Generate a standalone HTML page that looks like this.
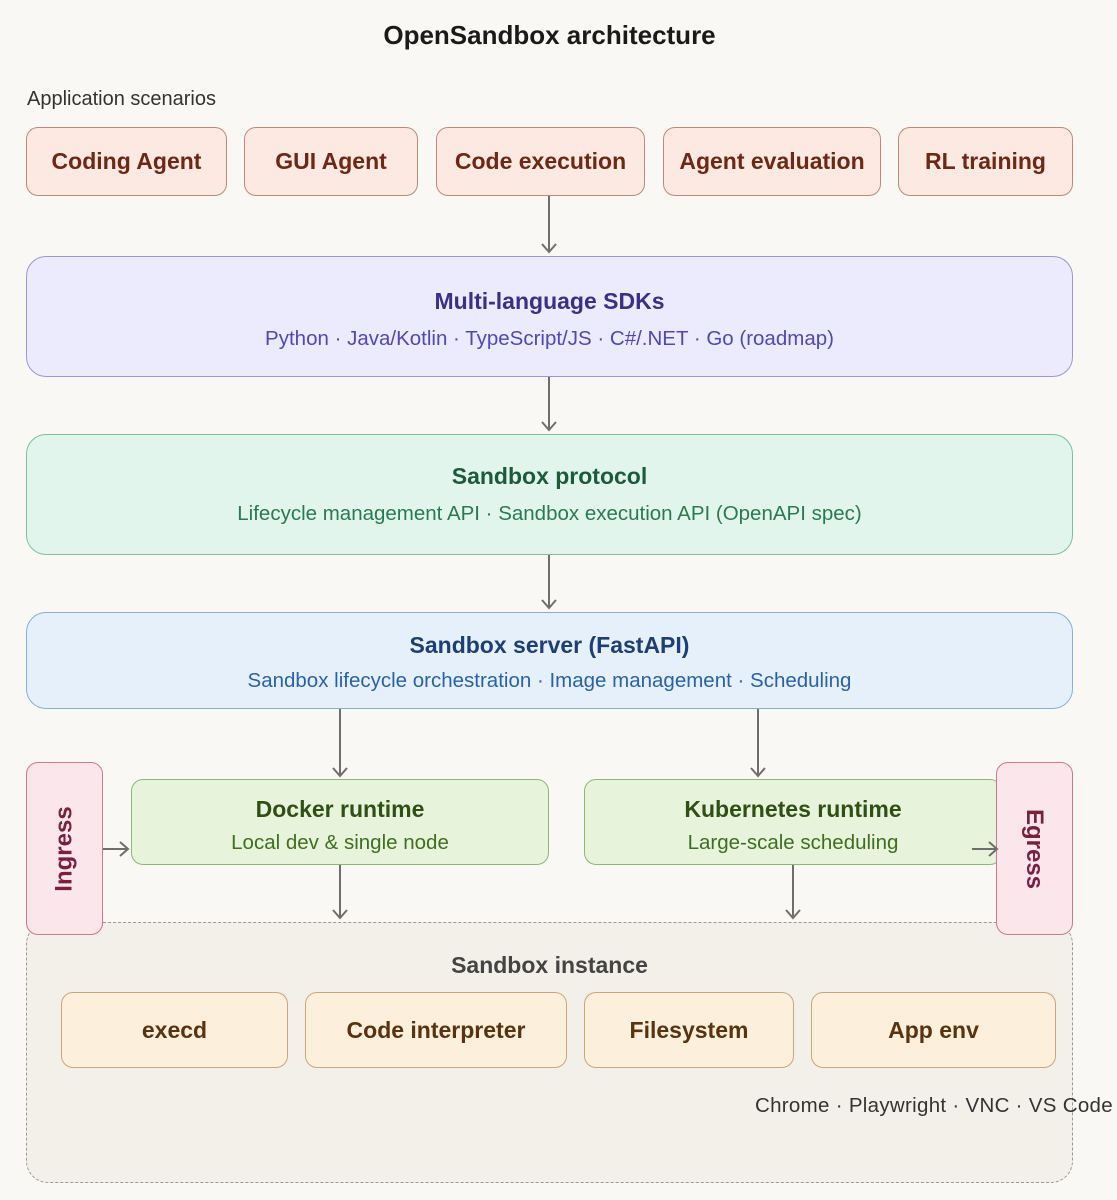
<!DOCTYPE html>
<html><head><meta charset="utf-8"><style>
*{margin:0;padding:0;box-sizing:border-box}
body{width:1117px;height:1200px;background:#faf8f4;font-family:"Liberation Sans",sans-serif;position:relative;overflow:hidden}
.a{position:absolute}
.b{position:absolute;border:1.5px solid;border-radius:12px;display:flex;align-items:center;justify-content:center;text-align:center;white-space:nowrap}
.t{position:absolute;text-align:center;white-space:nowrap}
.h{font-weight:bold;font-size:23px}
.s{font-size:20.5px}
.sc{top:127px;height:69px;background:#fbe9e2;border-color:#c08878;color:#6e2814;font-size:23px;font-weight:bold}
.in{top:992px;height:76px;background:#fcefdc;border-color:#c9a679;color:#5a3310;font-size:23px;font-weight:bold}
</style></head><body>
<div class="a" style="left:0;width:1099px;top:20px;text-align:center;font-size:26px;font-weight:bold;color:#1a1a1a">OpenSandbox architecture</div>
<div class="a" style="left:27px;top:88px;font-size:20px;color:#333">Application scenarios</div>

<div class="b sc" style="left:26px;width:201px">Coding Agent</div>
<div class="b sc" style="left:244px;width:174px">GUI Agent</div>
<div class="b sc" style="left:436px;width:209px">Code execution</div>
<div class="b sc" style="left:663px;width:218px">Agent evaluation</div>
<div class="b sc" style="left:898px;width:175px">RL training</div>

<div class="b" style="left:26px;top:256px;width:1047px;height:121px;background:#ecebfd;border-color:#9a95dc;border-radius:20px"></div>
<div class="t h" style="top:288px;color:#3b2f8a;left:26px;width:1047px">Multi-language SDKs</div>
<div class="t s" style="top:327px;color:#5246b8;left:26px;width:1047px">Python · Java/Kotlin · TypeScript/JS · C#/.NET · Go (roadmap)</div>

<div class="b" style="left:26px;top:434px;width:1047px;height:121px;background:#e2f5ec;border-color:#7dbf9c;border-radius:20px"></div>
<div class="t h" style="top:463px;color:#1d5a3c;left:26px;width:1047px">Sandbox protocol</div>
<div class="t s" style="top:502px;color:#2a7a50;left:26px;width:1047px">Lifecycle management API · Sandbox execution API (OpenAPI spec)</div>

<div class="b" style="left:26px;top:612px;width:1047px;height:97px;background:#e5f0fb;border-color:#86aedb;border-radius:20px"></div>
<div class="t h" style="top:632px;color:#1e3f73;left:26px;width:1047px">Sandbox server (FastAPI)</div>
<div class="t s" style="top:669px;color:#2a62a8;left:26px;width:1047px">Sandbox lifecycle orchestration · Image management · Scheduling</div>

<div class="a" style="left:26px;top:922px;width:1047px;height:261px;background:#f3f0ea;border:1.5px dashed #999;border-radius:22px"></div>
<div class="t" style="top:952px;font-size:23px;font-weight:bold;color:#444;left:26px;width:1047px">Sandbox instance</div>

<div class="b" style="left:131px;top:779px;width:418px;height:86px;background:#e8f3dc;border-color:#8cb77a"></div>
<div class="t h" style="top:796px;color:#2f4f14;left:131px;width:418px">Docker runtime</div>
<div class="t s" style="top:831px;color:#3f6e1f;left:131px;width:418px">Local dev &amp; single node</div>
<div class="b" style="left:584px;top:779px;width:418px;height:86px;background:#e8f3dc;border-color:#8cb77a"></div>
<div class="t h" style="top:796px;color:#2f4f14;left:584px;width:418px">Kubernetes runtime</div>
<div class="t s" style="top:831px;color:#3f6e1f;left:584px;width:418px">Large-scale scheduling</div>

<div class="b" style="left:26px;top:762px;width:77px;height:173px;background:#fbe6ec;border-color:#c87a92"><span style="display:inline-block;transform:rotate(-90deg);font-size:24px;font-weight:bold;color:#7a2040">Ingress</span></div>
<div class="b" style="left:996px;top:762px;width:77px;height:173px;background:#fbe6ec;border-color:#c87a92"><span style="display:inline-block;transform:rotate(90deg);font-size:24px;font-weight:bold;color:#7a2040">Egress</span></div>

<div class="b in" style="left:61px;width:227px">execd</div>
<div class="b in" style="left:305px;width:262px">Code interpreter</div>
<div class="b in" style="left:584px;width:210px">Filesystem</div>
<div class="b in" style="left:811px;width:245px">App env</div>
<div class="a" style="left:755px;top:1094px;font-size:20.5px;color:#333;white-space:nowrap;letter-spacing:0.3px">Chrome · Playwright · VNC · VS Code</div>

<svg class="a" style="left:0;top:0" width="1117" height="1200">
<g stroke="#6e6e6e" stroke-width="2" fill="none">
<path d="M549 196V252M542 244L549 252L556 244"/>
<path d="M549 377V430M542 422L549 430L556 422"/>
<path d="M549 555V608M542 600L549 608L556 600"/>
<path d="M340 709V776M333 768L340 776L347 768"/>
<path d="M758 709V776M751 768L758 776L765 768"/>
<path d="M340 865V918M333 910L340 918L347 910"/>
<path d="M793 865V918M786 910L793 918L800 910"/>
<path d="M103 849H128M120 842L128 849L120 856"/>
<path d="M972 849H997M989 842L997 849L989 856"/>
</g></svg>
</body></html>
